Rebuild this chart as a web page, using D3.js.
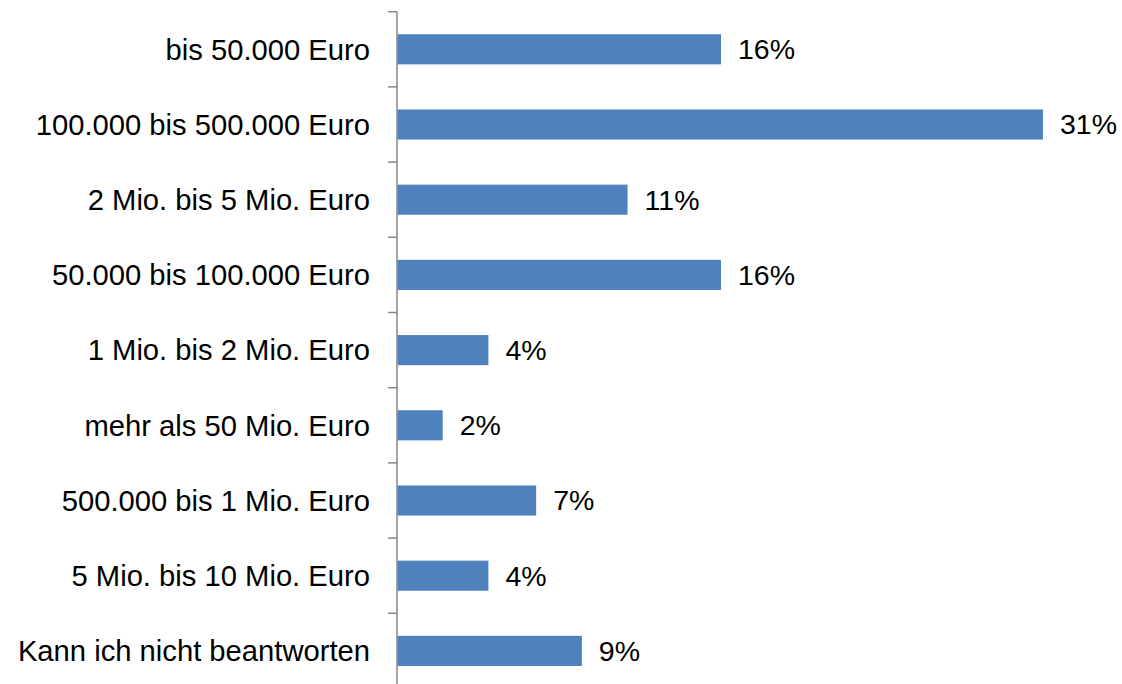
<!DOCTYPE html>
<html>
<head>
<meta charset="utf-8">
<script src="https://cdn.jsdelivr.net/npm/d3@7"></script>
<style>
  html, body { margin: 0; padding: 0; background: #fff; }
  svg { display: block; font-family: "Liberation Sans", Arial, sans-serif; }
</style>
</head>
<body>
<svg id="chart" width="1122" height="684"></svg>
<script>
// Kategorien (von oben nach unten) und Anteile in Prozent
const categories = [
  "bis 50.000 Euro",
  "100.000 bis 500.000 Euro",
  "2 Mio. bis 5 Mio. Euro",
  "50.000 bis 100.000 Euro",
  "1 Mio. bis 2 Mio. Euro",
  "mehr als 50 Mio. Euro",
  "500.000 bis 1 Mio. Euro",
  "5 Mio. bis 10 Mio. Euro",
  "Kann ich nicht beantworten"
];
const values = [15.6, 31.1, 11.1, 15.6, 4.4, 2.2, 6.7, 4.4, 8.9];

const W = 1122, H = 684;
const axisX = 397;
const barColor = "#4F81BD";
const axisColor = "#868686";

const svg = d3.select("#chart");

const data = categories.map((c, i) => ({ cat: c, val: values[i] }));

const x = d3.scaleLinear()
  .domain([0, 35])
  .range([axisX, axisX + 35 * 20.77]);

const y = d3.scaleBand()
  .domain(categories)
  .range([11.7, 688.5])
  .paddingInner(0.6)
  .paddingOuter(0.3);

const step = y.step();
const top0 = y.range()[0];

// Achse
svg.append("line")
  .attr("x1", axisX).attr("x2", axisX)
  .attr("y1", top0).attr("y2", H)
  .attr("stroke", axisColor)
  .attr("stroke-width", 1.5);

// Teilstriche an Kategoriegrenzen
svg.append("g").selectAll("line")
  .data(d3.range(categories.length + 1))
  .enter().append("line")
  .attr("x1", axisX - 9).attr("x2", axisX)
  .attr("y1", i => top0 + i * step)
  .attr("y2", i => top0 + i * step)
  .attr("stroke", axisColor)
  .attr("stroke-width", 1.5);

// Balken
svg.append("g").selectAll("rect")
  .data(data)
  .enter().append("rect")
  .attr("x", x(0) + 0.5)
  .attr("y", d => y(d.cat))
  .attr("width", d => x(d.val) - x(0) - 0.5)
  .attr("height", y.bandwidth())
  .attr("fill", barColor);

// Kategoriebeschriftungen
svg.append("g").selectAll("text")
  .data(data)
  .enter().append("text")
  .attr("x", axisX - 27)
  .attr("y", d => y(d.cat) + y.bandwidth() / 2)
  .attr("dy", "0.35em")
  .attr("text-anchor", "end")
  .attr("font-size", 29.2)
  .attr("fill", "#000")
  .text(d => d.cat);

// Wertebeschriftungen
const fmt = d => d3.format(".0f")(d) + "%";
svg.append("g").selectAll("text")
  .data(data)
  .enter().append("text")
  .attr("x", d => x(d.val) + 17)
  .attr("y", d => y(d.cat) + y.bandwidth() / 2)
  .attr("dy", "0.35em")
  .attr("font-size", 28.5)
  .attr("fill", "#000")
  .text(d => fmt(d.val));
</script>
</body>
</html>
